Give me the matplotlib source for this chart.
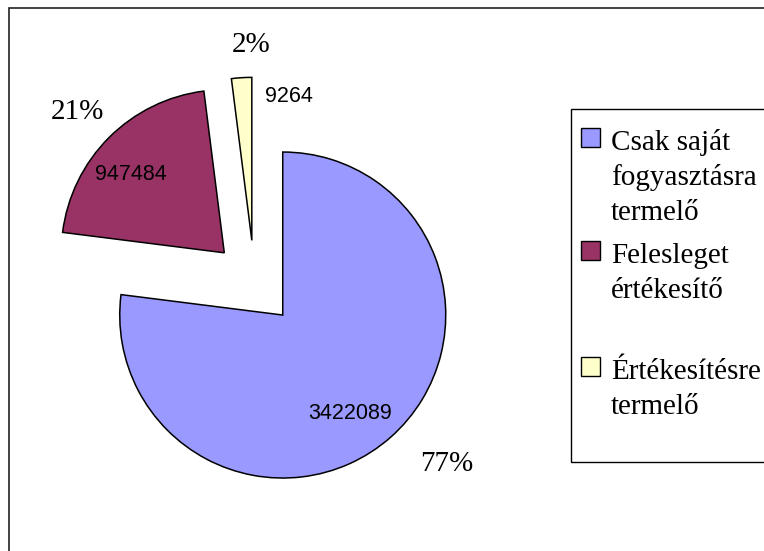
import matplotlib
matplotlib.use("Agg")
import matplotlib.pyplot as plt
import numpy as np
from matplotlib.patches import Rectangle

# data
categories = ["Csak saját\nfogyasztásra\ntermelő", "Felesleget\nértékesítő", "Értékesítésre\ntermelő"]
shares = [77, 21, 2]
value_labels = ["3422089", "947484", "9264"]
colors = ["#9999FF", "#993366", "#FFFFCC"]

W, H = 764, 551
R = 163.0            # pie radius in pixels
cx, cy = 254.5, 283  # pie centre in pixels (from top-left)

fig = plt.figure(figsize=(W / 100, H / 100), dpi=100)
ax = fig.add_axes([0, 0, 1, 1])

wedges, _ = ax.pie(shares, colors=colors, explode=[0.262] * 3, startangle=90,
                   counterclock=False, radius=1,
                   wedgeprops=dict(edgecolor="black", linewidth=1.1))
ax.set_xlim(-cx / R, (W - cx) / R)
ax.set_ylim(-(H - cy) / R, cy / R)
ax.set_aspect("auto")
ax.axis("off")

# label placement (radius, angle) measured from each wedge's own centre
value_pos = [(0.734, -55.8), (0.75, 140), (0.915, 75.4)]
pct_pos = [(1.36, -42.2), (1.25, 136.1), (1.2, 90.2)]

for w, s, v, vp, pp in zip(wedges, shares, value_labels, value_pos, pct_pos):
    x0, y0 = w.center
    r, a = vp
    ax.text(x0 + r * np.cos(np.radians(a)), y0 + r * np.sin(np.radians(a)), v,
            ha="center", va="center", fontsize=15.5, family="Liberation Sans")
    r, a = pp
    ax.text(x0 + r * np.cos(np.radians(a)), y0 + r * np.sin(np.radians(a)), f"{s}%",
            ha="center", va="center", fontsize=21, family="Liberation Serif")

# chart area frame (right and bottom run off the picture)
fig.add_artist(Rectangle((9 / W, -0.2), 2, 1 - 8 / H + 0.2, transform=fig.transFigure,
                         fill=False, edgecolor="#222222", linewidth=1.2))

# legend, laid out like the spreadsheet one
fig.add_artist(Rectangle((571 / W, 1 - 462 / H), 1, (462 - 109) / H, transform=fig.transFigure,
                         fill=False, edgecolor="black", linewidth=1.0))
first_baselines = [150, 263, 379]
line_gap = 35
for name, col, yb in zip(categories, colors, first_baselines):
    sq = 19
    yc = yb - 13
    fig.add_artist(Rectangle((581 / W, 1 - (yc + sq / 2) / H), sq / W, sq / H,
                             transform=fig.transFigure, facecolor=col,
                             edgecolor="black", linewidth=1.0))
    for i, line in enumerate(name.split("\n")):
        fig.text(611 / W, 1 - (yb + i * line_gap) / H, line, ha="left", va="baseline",
                 fontsize=21, family="Liberation Serif")

fig.savefig("out.png", dpi=100)
